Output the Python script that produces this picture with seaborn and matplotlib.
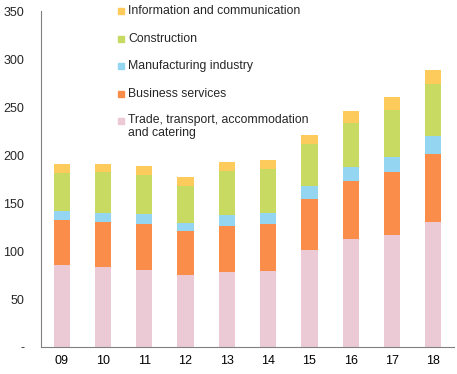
import numpy as np
import pandas as pd
import matplotlib
matplotlib.use("Agg")
import matplotlib.pyplot as plt
from matplotlib.patches import Rectangle
import seaborn as sns

years = ["09", "10", "11", "12", "13", "14", "15", "16", "17", "18"]
trade = [85.4, 83.6, 80.2, 74.7, 78.1, 79.2, 101.0, 112.5, 116.7, 130.5]
business = [47.2, 46.9, 48.3, 46.1, 47.9, 48.9, 53.5, 60.5, 65.6, 70.5]
manufacturing = [9.1, 8.7, 9.7, 8.0, 11.2, 11.8, 13.2, 14.8, 15.7, 18.8]
construction = [39.9, 42.8, 40.8, 38.9, 46.1, 45.1, 43.3, 45.2, 48.9, 54.2]
infocomm = [9.0, 8.6, 9.9, 9.7, 9.4, 9.8, 9.8, 12.8, 13.5, 14.5]

series_names = ["Trade, transport, accommodation\nand catering", "Business services",
                "Manufacturing industry", "Construction", "Information and communication"]
series_vals = [trade, business, manufacturing, construction, infocomm]
colors = ["#EBCAD5", "#FB8D4B", "#94D5F1", "#C8DA62", "#FDCB5B"]

sns.set_style("white")
plt.rcParams["font.family"] = ["Liberation Sans", "DejaVu Sans"]

fig = plt.figure(figsize=(4.57, 3.74), dpi=100)
ax = fig.add_axes([41 / 457, 27 / 374, 413 / 457, 336 / 374])

cum = np.cumsum(np.array(series_vals), axis=0)
df = pd.DataFrame({"year": years})
for i in range(len(series_vals) - 1, -1, -1):
    df["v"] = cum[i]
    sns.barplot(data=df, x="year", y="v", color=colors[i], width=0.39,
                saturation=1, ax=ax, linewidth=0, edgecolor="none")

ax.set_xlim(-0.5, 9.5)
ax.set_ylim(0, 350)
ax.set_yticks(range(0, 351, 50))
ax.set_yticklabels(["-"] + [str(v) for v in range(50, 351, 50)])
ax.set_xlabel("")
ax.set_ylabel("")
ax.set_xticks(np.arange(-0.5, 10, 1.0), minor=True)
ax.tick_params(axis="x", which="major", length=0, pad=6, labelsize=9, colors="#000000")
ax.tick_params(axis="x", which="minor", length=4, width=0.8, color="#808080", direction="out")
ax.tick_params(axis="y", which="major", length=4, width=0.8, color="#808080", direction="out",
               labelsize=9, pad=8)
sns.despine(ax=ax, top=True, right=True)
for s in ["left", "bottom"]:
    ax.spines[s].set_color("#808080")
    ax.spines[s].set_linewidth(0.8)

# legend (manual, reverse order)
rows = [11, 39, 66, 94, 121]
order = [4, 3, 2, 1, 0]
for r, i in zip(rows, order):
    fig.patches.append(Rectangle((118 / 457, 1 - (r + 3) / 374), 6 / 457, 6 / 374,
                                 transform=fig.transFigure, color=colors[i]))
    if "\n" in series_names[i]:
        fig.text(128 / 457, 1 - (r - 7) / 374, series_names[i], fontsize=8.8, va="top",
                 ha="left", linespacing=1.15)
    else:
        fig.text(128 / 457, 1 - r / 374, series_names[i], fontsize=8.8, va="center", ha="left")

fig.savefig("out.png", dpi=100)
